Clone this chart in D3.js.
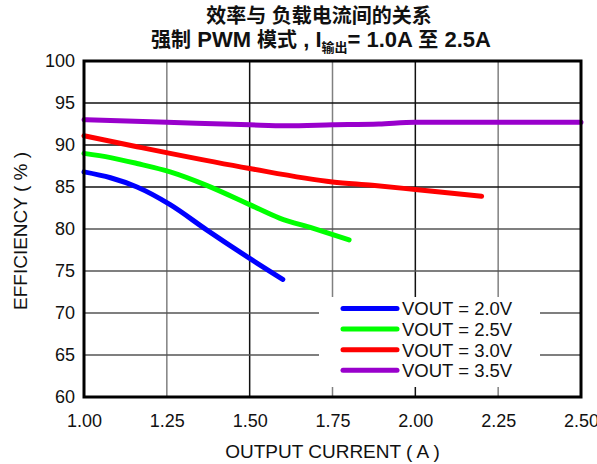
<!DOCTYPE html>
<html><head><meta charset="utf-8">
<script src="https://cdn.jsdelivr.net/npm/d3@7"></script>
<style>body{margin:0;background:#fff}svg{display:block;font-family:"Liberation Sans",Arial,sans-serif}</style>
</head><body><svg id="c" width="597" height="464"></svg>
<script>
const xTicks = [1.00, 1.25, 1.50, 1.75, 2.00, 2.25, 2.50];
const yTicks = [60, 65, 70, 75, 80, 85, 90, 95, 100];
const seriesNames = ["VOUT = 2.0V", "VOUT = 2.5V", "VOUT = 3.0V", "VOUT = 3.5V"];
const seriesColors = ["#0000ff", "#00ff00", "#ff0000", "#9900cc"];
const v20 = [[1.00,86.8],[1.08,86.1],[1.16,85.0],[1.26,82.9],[1.37,79.9],[1.50,76.5],[1.60,74.0]];
const v25 = [[1.00,89.0],[1.08,88.5],[1.16,87.8],[1.26,86.8],[1.37,85.2],[1.50,82.9],[1.59,81.3],[1.69,80.1],[1.80,78.7]];
const v30 = [[1.00,91.1],[1.16,89.8],[1.26,89.0],[1.50,87.2],[1.75,85.6],[1.87,85.2],[2.00,84.7],[2.20,83.9]];
const v35 = [[1.00,93.0],[1.25,92.7],[1.50,92.4],[1.61,92.3],[1.75,92.4],[1.89,92.5],[2.00,92.7],[2.25,92.7],[2.50,92.7]];
const seriesData = [v20, v25, v30, v35];

const svg = d3.select("#c");
const L = 84, R = 581, T = 61, B = 397;
const x = d3.scaleLinear().domain([1.0, 2.5]).range([L, R]);
const y = d3.scaleLinear().domain([60, 100]).range([B, T]);

// grid
const g = svg.append("g");
g.selectAll("line.v").data(xTicks.slice(1, -1)).join("line")
  .attr("x1", d => x(d)).attr("x2", d => x(d)).attr("y1", T).attr("y2", B)
  .attr("stroke", (d, i) => i % 2 === 0 ? "#808080" : "#111").attr("stroke-width", 1.5);
g.selectAll("line.h").data(yTicks.slice(1, -1)).join("line")
  .attr("y1", d => y(d)).attr("y2", d => y(d)).attr("x1", L).attr("x2", R)
  .attr("stroke", d => d >= 85 ? "#111" : "#555").attr("stroke-width", 1.5);

// axes labels via d3 axes
const xAxis = svg.append("g").attr("transform", `translate(0,${B})`)
  .call(d3.axisBottom(x).tickValues(xTicks).tickFormat(d3.format(".2f")).tickSize(0).tickPadding(17));
xAxis.select(".domain").remove();
xAxis.selectAll("text").attr("font-size", 18).attr("fill", "#111").attr("font-family", "Liberation Sans, Arial, sans-serif");
const yAxis = svg.append("g").attr("transform", `translate(${L},0)`)
  .call(d3.axisLeft(y).tickValues(yTicks).tickFormat(d3.format("d")).tickSize(0).tickPadding(9));
yAxis.select(".domain").remove();
yAxis.selectAll("text").attr("font-size", 18).attr("fill", "#111").attr("font-family", "Liberation Sans, Arial, sans-serif");

// lines
const line = d3.line().x(d => x(d[0])).y(d => y(d[1])).curve(d3.curveMonotoneX);
svg.append("g").selectAll("path").data(seriesData).join("path")
  .attr("d", line).attr("fill", "none")
  .attr("stroke", (d, i) => seriesColors[i]).attr("stroke-width", 5).attr("stroke-linecap", "round");

// border
svg.append("rect").attr("x", L).attr("y", T).attr("width", R - L).attr("height", B - T)
  .attr("fill", "none").attr("stroke", "#000").attr("stroke-width", 3);

// legend
const lg = svg.append("g");
lg.append("rect").attr("x", 319).attr("y", 297).attr("width", 221).attr("height", 90).attr("fill", "#fff");
seriesNames.forEach((n, i) => {
  const yy = 308.5 + i * 20.6;
  lg.append("line").attr("x1", 343).attr("x2", 397).attr("y1", yy).attr("y2", yy)
    .attr("stroke", seriesColors[i]).attr("stroke-width", 5).attr("stroke-linecap", "round");
  lg.append("text").attr("x", 402).attr("y", yy + 6.8).attr("font-size", 18.5).attr("fill", "#111").text(n);
});

// axis titles
svg.append("text").attr("x", (L + R) / 2).attr("y", 458).attr("text-anchor", "middle")
  .attr("font-size", 19).attr("fill", "#111").text("OUTPUT CURRENT ( A )");
svg.append("text").attr("transform", `translate(27,${(T + B) / 2 + 2}) rotate(-90)`).attr("text-anchor", "middle")
  .attr("font-size", 19).attr("fill", "#111").text("EFFICIENCY ( % )");

// title
const tf = "'Liberation Sans', 'Noto Sans CJK SC', Arial, sans-serif";
svg.append("text").attr("x", 319).attr("y", 23).attr("text-anchor", "middle")
  .attr("font-size", 20).attr("font-weight", "bold").attr("font-family", tf).attr("fill", "#111")
  .text("效率与 负载电流间的关系");
const t2 = svg.append("text").attr("x", 321).attr("y", 47).attr("text-anchor", "middle")
  .attr("font-size", 22).attr("font-weight", "bold").attr("font-family", tf).attr("fill", "#111");
t2.append("tspan").attr("font-size", 20).text("强制");
t2.append("tspan").text(" PWM ");
t2.append("tspan").attr("font-size", 20).text("模式");
t2.append("tspan").text(" , I");
t2.append("tspan").attr("font-size", 13).attr("dy", 5).text("输出");
t2.append("tspan").attr("dy", -5).text("= 1.0A ");
t2.append("tspan").attr("font-size", 20).text("至");
t2.append("tspan").text(" 2.5A");
</script></body></html>
